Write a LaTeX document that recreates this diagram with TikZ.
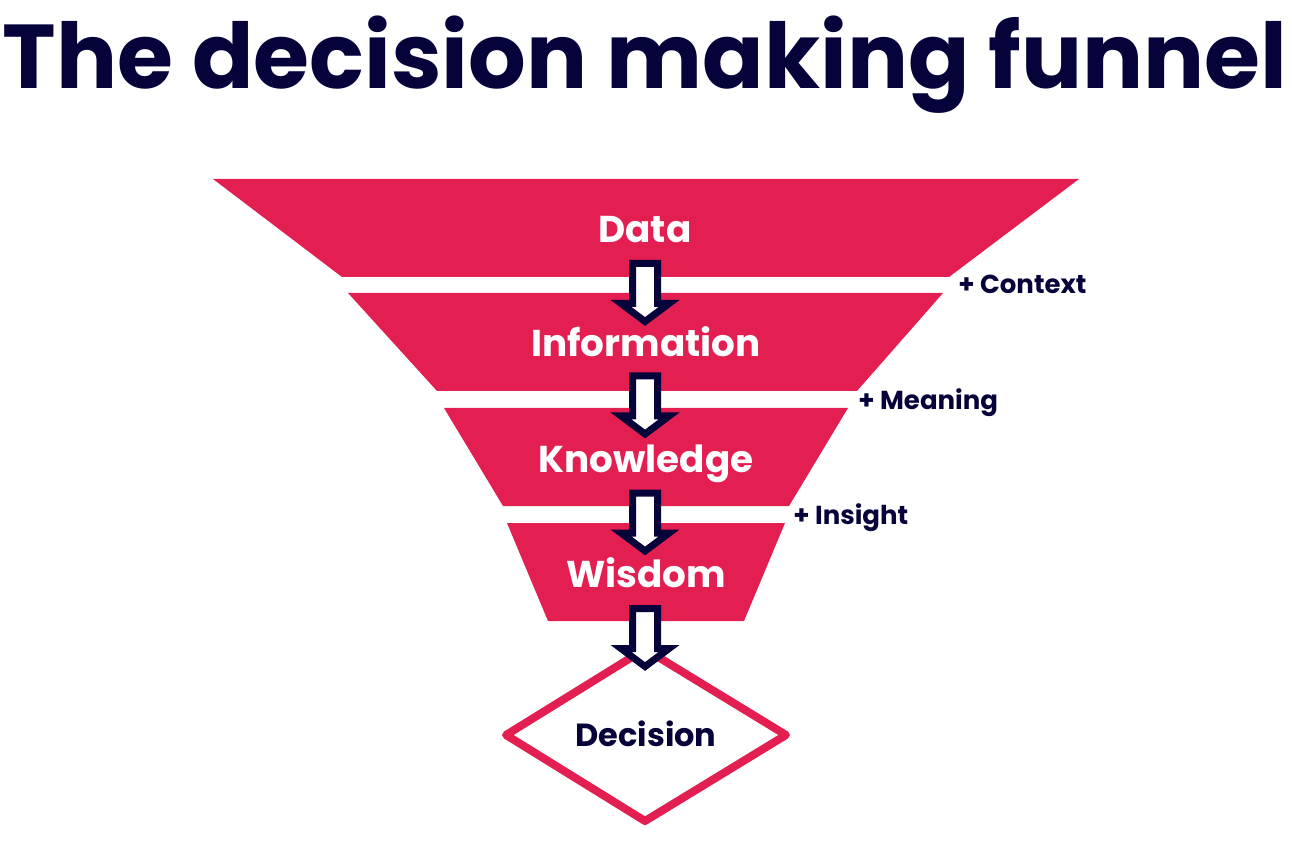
\documentclass[tikz,border=0pt]{standalone}
\usepackage{fontspec}
\setmainfont{Poppins}
\usetikzlibrary{calc}
\definecolor{funred}{HTML}{E31F52}
\definecolor{navy}{HTML}{06033A}
\begin{document}
\begin{tikzpicture}[x=0.75pt,y=-0.75pt,
  seg/.style={fill=funred},
  segtext/.style={text=white,font=\fontsize{28}{28}\selectfont\bfseries,anchor=base,inner sep=0},
  lbl/.style={text=navy,font=\fontsize{19.5}{19.5}\selectfont\bfseries,anchor=base west,inner sep=0},
  barrow/.pic={\draw[navy,line width=5.25pt,fill=white,line join=miter]
     (-12.5,0) -- (12.5,0) -- (12.5,40) -- (24,40) -- (0,58) -- (-24,40) -- (-12.5,40) -- cycle;}
]
\useasboundingbox (0,0) rectangle (1292,855);
% title
\node[text=navy,font=\fontsize{68}{68}\selectfont\bfseries,anchor=base,inner sep=0] (title) at (645,89) {The decision making funnel};
% funnel segments
\fill[seg] (213,179) -- (1079,179) -- (949,277) -- (342,277) -- cycle;
\fill[seg] (348,293) -- (943,293) -- (857,391) -- (437,391) -- cycle;
\fill[seg] (444,408) -- (848,408) -- (789,506) -- (503,506) -- cycle;
\fill[seg] (507,523) -- (785,523) -- (744,621) -- (548,621) -- cycle;
% decision diamond
\draw[funred,line width=6pt,line join=round,fill=white] (645,649) -- (786,735) -- (645,821) -- (506,735) -- cycle;
% texts
\node[segtext] (data) at (645,243) {Data};
\node[segtext] (info) at (646,357) {Information};
\node[segtext] (know) at (646,472) {Knowledge};
\node[segtext] (wis) at (646,587) {Wisdom};
\node[text=navy,font=\fontsize{24}{24}\selectfont\bfseries,anchor=base,inner sep=0] (dec) at (646,746) {Decision};
% side labels
\node[lbl] (ctx) at (958,294) {+ Context};
\node[lbl] (mean) at (858,410) {+ Meaning};
\node[lbl] (ins) at (793,524) {+ Insight};
% block arrows
\pic at (645,263.5) {barrow};
\pic at (645,376) {barrow};
\pic at (645,493) {barrow};
\pic at (645,608.5) {barrow};
\end{tikzpicture}
\end{document}
